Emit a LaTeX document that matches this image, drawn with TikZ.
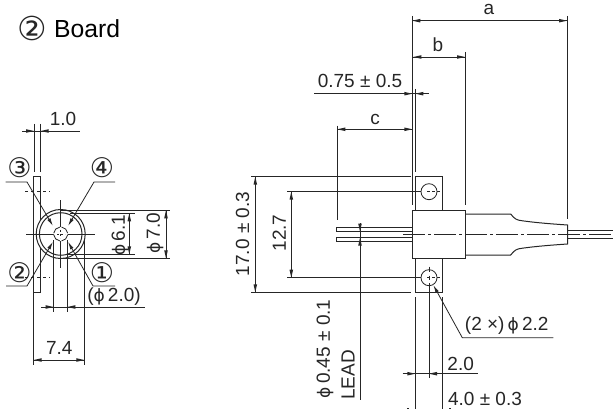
\documentclass[tikz,border=0pt]{standalone}
\usepackage{fontspec}
\setmainfont{Liberation Sans}
\newfontfamily\symfont{DejaVu Sans}
\usetikzlibrary{arrows.meta}
\definecolor{ink}{HTML}{262626}
\newcommand{\phisym}{{\symfont\fontsize{17}{17}\selectfont ϕ}}
\newcommand{\arrR}[2]{\fill[ink] (#1,#2) -- ++(-8,1.8) -- ++(0,-3.6) -- cycle;}
\newcommand{\arrL}[2]{\fill[ink] (#1,#2) -- ++(8,1.8) -- ++(0,-3.6) -- cycle;}
\newcommand{\arrD}[2]{\fill[ink] (#1,#2) -- ++(1.8,-8) -- ++(-3.6,0) -- cycle;}
\newcommand{\arrU}[2]{\fill[ink] (#1,#2) -- ++(1.8,8) -- ++(-3.6,0) -- cycle;}
\tikzset{
  ln/.style={draw=ink,line width=0.8pt},
  body/.style={draw=ink,line width=1pt},
  leader/.style={ln,-{Latex[length=8pt,width=3.6pt]}},
  chain/.style={ln,dash pattern=on 22pt off 3pt on 3pt off 3pt},
  lbl/.style={text=ink,font=\fontsize{19}{19}\selectfont,inner sep=0pt},
  num/.style={text=ink,font=\symfont\fontsize{27}{27}\selectfont,inner sep=0pt},
}
\begin{document}
\begin{tikzpicture}[x=1pt,y=-1pt]
\useasboundingbox (0,0) rectangle (613,409);
\fill[white] (0,0) rectangle (613,409);
% title
\node[num,font=\symfont\fontsize{33}{33}\selectfont] (title1) at (32.7,28.5) {②};
\node[lbl,text=black,font=\fontsize{24.7}{24.7}\selectfont,anchor=base west] (title2) at (54,38) {Board};
%% left view
\draw[ln] (33.7,176) rectangle (40.7,292);
\draw[ln,dashed] (25,191) -- (50,191);
\draw[ln,dashed] (25,277) -- (50,277);
\draw[body,fill=white] (60.7,234) circle (24.5);
\draw[body] (60.7,234) circle (21.3);
\draw[ln] (26,234) -- (95,234);
\draw[ln] (60.7,200) -- (60.7,268);
\fill[white] (60.7,234) circle (7);
\foreach \a in {45,135,225,315}
  \draw[ln] ([shift={(\a-38:7)}]60.7,234) arc[start angle=\a-38,end angle=\a+38,radius=7];
\draw[ln,dash pattern=on 2pt off 2pt] (57,234) -- (65,234);
\draw[ln,dash pattern=on 2pt off 2pt] (60.7,230) -- (60.7,238);
% 1.0
\draw[ln] (34,124) -- (34,172);
\draw[ln] (40.7,124) -- (40.7,172);
\draw[ln] (22,131) -- (80,131);
\arrR{34}{131}\arrL{40.7}{131}
\node[lbl] (t10) at (63,119) {1.0};
% circled labels
\node[num] (n3) at (19.5,168) {③};
\node[num] (n4) at (102,168) {④};
\node[num] (n2) at (19.5,272.7) {②};
\node[num] (n1) at (102,272.7) {①};
\draw[leader] (5.7,182) -- (27,182) -- (53,226);
\draw[leader] (115,182) -- (94,182) -- (68,226);
\draw[leader] (6,286) -- (27,286) -- (53,241.7);
\draw[leader] (115,286) -- (93,286) -- (68,241.7);
% 6.1
\draw[ln] (70,213.3) -- (135,213.3);
\draw[ln] (68,254.3) -- (135,254.3);
\draw[ln] (129.3,213.3) -- (129.3,254.3);
\arrU{129.3}{213.3}\arrD{129.3}{254.3}
\node[lbl,rotate=90] (t61) at (120,235.5) {\phisym\,6.1};
% 7.0
\draw[ln] (60,210.3) -- (170,210.3);
\draw[ln] (60,258.3) -- (170,258.3);
\draw[ln] (166,210.3) -- (166,258.3);
\arrU{166}{210.3}\arrD{166}{258.3}
\node[lbl,rotate=90] (t70) at (155,233.5) {\phisym\,7.0};
% 2.0 dia
\draw[ln] (53.7,240) -- (53.7,312);
\draw[ln] (67.3,240) -- (67.3,312);
\draw[ln] (41,307) -- (145,307);
\arrR{53.7}{307}\arrL{67.3}{307}
\node[lbl] (t20p) at (114,297) {(\phisym\,2.0)};
% 7.4
\draw[ln] (33.7,293) -- (33.7,365);
\draw[ln] (84.3,240) -- (84.3,365);
\draw[ln] (33.7,360) -- (84.3,360);
\arrL{33.7}{360}\arrR{84.3}{360}
\node[lbl] (t74) at (59.3,348) {7.4};
%% right view: dimension lines above
\draw[ln] (412.3,16) -- (412.3,205);
\draw[ln] (567,16) -- (567,219);
\draw[ln] (412.3,20.7) -- (567,20.7);
\arrL{412.3}{20.7}\arrR{567}{20.7}
\node[lbl] (ta) at (489,9) {a};
\draw[ln] (465,52) -- (465,205);
\draw[ln] (413.3,57) -- (465,57);
\arrL{413.3}{57}\arrR{465}{57}
\node[lbl] (tb) at (438,45) {b};
\draw[ln] (415.3,89) -- (415.3,171.7);
\draw[ln] (314,93.7) -- (429.3,93.7);
\arrR{412.3}{93.7}\arrL{415.3}{93.7}
\node[lbl] (t075) at (360,81) {0.75 ± 0.5};
\draw[ln] (337.3,125.7) -- (337.3,220);
\draw[ln] (337.3,129.3) -- (412.3,129.3);
\arrL{337.3}{129.3}\arrR{412.3}{129.3}
\node[lbl] (tc) at (375,119) {c};
% plate, holes
\draw[body] (415.3,176.7) rectangle (442.7,292.3);
\draw[ln] (287.3,191.7) -- (421,191.7);
\draw[ln] (287.3,277.7) -- (421,277.7);
\draw[ln] (429,191.7) circle (8);
\draw[ln] (429,277.7) circle (8);
\draw[ln,dash pattern=on 3pt off 2pt] (427,191.7) -- (439.5,191.7);
\draw[ln,dash pattern=on 3pt off 2pt] (427,277.7) -- (439.5,277.7);
\draw[ln] (429,266.7) -- (429,272);
\draw[ln] (429,275.5) -- (429,279.5);
\draw[ln] (429,283) -- (429,378);
% 17.0, 12.7
\draw[ln] (251,176.7) -- (411,176.7);
\draw[ln] (251,292.3) -- (411,292.3);
\draw[ln] (255.3,176.7) -- (255.3,292.3);
\arrU{255.3}{176.7}\arrD{255.3}{292.3}
\node[lbl,rotate=90] (t170) at (242.7,234) {17.0 ± 0.3};
\draw[ln] (291.3,191.7) -- (291.3,277.7);
\arrU{291.3}{191.7}\arrD{291.3}{277.7}
\node[lbl,rotate=90] (t127) at (279.3,233) {12.7};
% pins
\draw[ln] (336.7,227.7) rectangle (412,231.3);
\draw[ln] (336.7,237.7) rectangle (412,241);
% lead dim
\draw[ln] (360,223.3) -- (360,400);
\arrD{360}{231.5}\arrU{360}{237.7}
\node[lbl,rotate=90,anchor=west] (t045) at (325,398.5) {\phisym\,0.45 ± 0.1};
\node[lbl,rotate=90,anchor=west] (tlead) at (348,400) {LEAD};
% body and tube
\draw[body,fill=white] (412,210.7) rectangle (465.7,258.3);
\draw[body] (465.7,214) -- (510.7,214) .. controls (514.5,219) and (517,220.2) .. (521.7,220.7) .. controls (535,222.6) and (552,224) .. (567.7,225) -- (567.7,244) .. controls (552,245) and (535,246.4) .. (521.7,248.3) .. controls (517,248.8) and (514.5,250) .. (510.7,255) -- (465.7,255);
% fibre
\draw[ln] (567.7,230.7) -- (612.7,230.7);
\draw[ln] (567.7,238) -- (612.7,238);
\draw[chain] (403,234.3) -- (612.7,234.3);
% lower dims
\draw[ln] (415.3,297.3) -- (415.3,409);
\draw[ln] (442.7,297.3) -- (442.7,409);
\draw[ln] (402.7,373.7) -- (477.7,373.7);
\arrR{415.3}{373.7}\arrL{429}{373.7}
\node[lbl] (t20) at (460.7,364) {2.0};
\node[lbl] (t40) at (485,398.7) {4.0 ± 0.3};
\draw[ln] (407,408.6) -- (409,408.6);
\draw[ln] (449,408.6) -- (451,408.6);
% leader 2x
\draw[leader] (553.3,337.7) -- (462.3,337.7) -- (433.3,285);
\node[lbl] (t22) at (506.7,326) {(2 ×)\,\phisym\,2.2};
\end{tikzpicture}
\end{document}
